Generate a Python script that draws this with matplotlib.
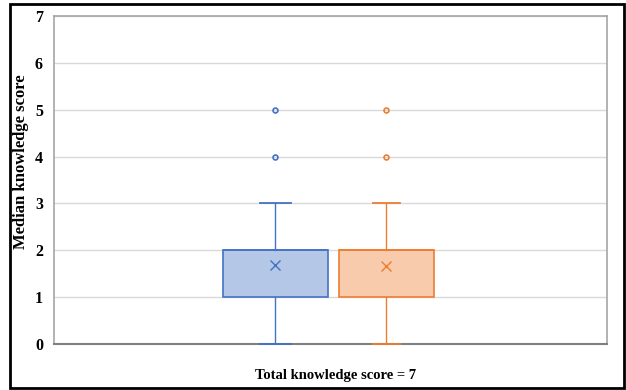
import matplotlib
matplotlib.use("Agg")
import matplotlib.pyplot as plt
from matplotlib.patches import Rectangle

# ---- data ----
series_names = ["Group 1", "Group 2"]
q1 = [1, 1]
q3 = [2, 2]
medians = [2, 2]
whisker_low = [0, 0]
whisker_high = [3, 3]
means = [1.68, 1.66]
outliers = [[4, 5], [4, 5]]
y_ticks = [0, 1, 2, 3, 4, 5, 6, 7]
x_label = "Total knowledge score = 7"
y_label = "Median knowledge score"

# ---- style ----
edge_colors = ["#4472C4", "#ED7D31"]
fill_colors = ["#B4C7E7", "#F8CBAD"]
positions = [0.4005, 0.601]
widths = [0.19, 0.172]
cap_widths = [0.055, 0.05]

plt.rcParams["font.family"] = ["Liberation Serif", "DejaVu Serif"]

fig = plt.figure(figsize=(6.26, 3.90), dpi=100)
W, H = 626, 390
ax = fig.add_axes([54 / W, 1 - 344 / H, (607 - 54) / W, (344 - 16) / H])

for i in range(len(series_names)):
    stats = [dict(q1=q1[i], q3=q3[i], med=medians[i], whislo=whisker_low[i],
                  whishi=whisker_high[i], mean=means[i], fliers=outliers[i])]
    c = edge_colors[i]
    art = ax.bxp(stats, positions=[positions[i]], widths=widths[i], patch_artist=True,
                 showmeans=True, showfliers=True, capwidths=[cap_widths[i]],
                 boxprops=dict(facecolor=fill_colors[i], edgecolor=c, linewidth=1.2),
                 medianprops=dict(color=c, linewidth=1.2),
                 whiskerprops=dict(color=c, linewidth=1.0),
                 capprops=dict(color=c, linewidth=1.3),
                 meanprops=dict(marker="x", markeredgecolor=c, markersize=7, markeredgewidth=1.0),
                 flierprops=dict(marker="o", markerfacecolor="none", markeredgecolor=c,
                                 markersize=3.5, markeredgewidth=1.2),
                 manage_ticks=False, zorder=3)
    for cap in art["caps"]:
        cap.set_clip_on(False)
        cap.set_zorder(4)

ax.set_xlim(0, 1)
ax.set_ylim(0, 7)
ax.set_yticks(y_ticks)
ax.set_xticks([])
ax.grid(axis="y", color="#D9D9D9", linewidth=1.0, zorder=0)
ax.set_axisbelow(True)
for s in ["left", "top", "right"]:
    ax.spines[s].set_color("#A6A6A6")
    ax.spines[s].set_linewidth(1.2)
ax.spines["bottom"].set_color("#808080")
ax.spines["bottom"].set_linewidth(1.5)
ax.tick_params(axis="y", length=0, pad=8, labelsize=11.5)
for t in ax.get_yticklabels():
    t.set_fontweight("bold")

fig.text(336 / W, 1 - 376 / H, x_label, fontsize=10.5, fontweight="bold",
         ha="center", va="center")
fig.text(21 / W, 1 - 162 / H, y_label, fontsize=12, fontweight="bold",
         ha="center", va="center", rotation=90)

# outer figure border
fig.patches.append(Rectangle((10 / W, 2 / H), (624 - 10) / W, (386 - 2) / H,
                             transform=fig.transFigure, fill=False,
                             edgecolor="black", linewidth=2))

fig.savefig("out.png", dpi=100)
